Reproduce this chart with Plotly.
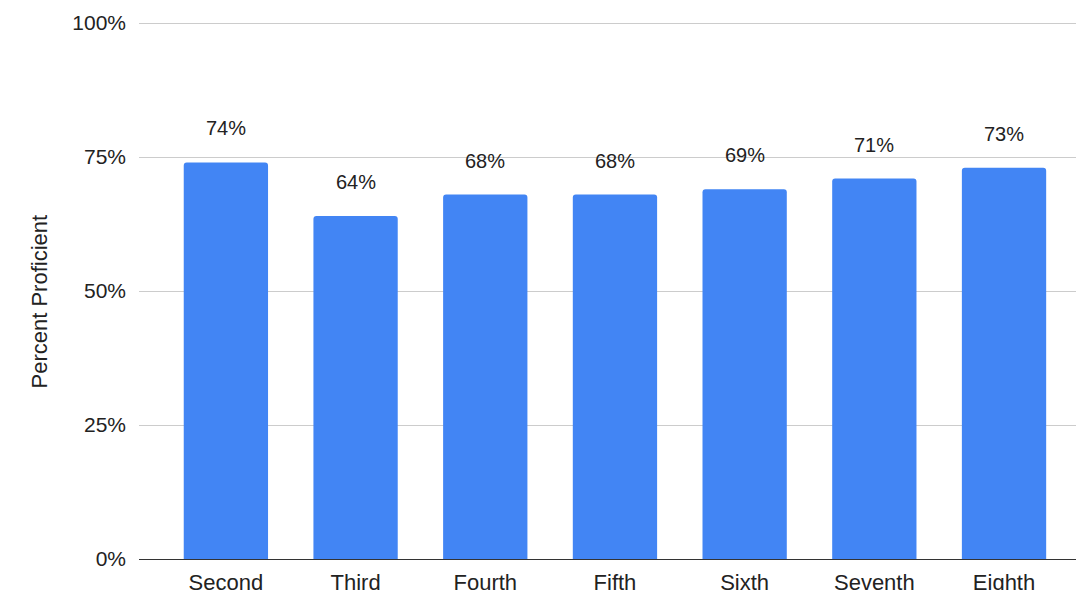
import plotly.graph_objects as go

grades = ["Second", "Third", "Fourth", "Fifth", "Sixth", "Seventh", "Eighth"]
proficient = [74, 64, 68, 68, 69, 71, 73]
value_labels = ["74%", "64%", "68%", "68%", "69%", "71%", "73%"]
y_ticks = [0, 25, 50, 75, 100]
y_tick_text = ["0%", "25%", "50%", "75%", "100%"]

W, H = 1076, 590
L, R, T, B = 139, 0, 21, 31
FONT = "Liberation Sans, Arial, Helvetica"

fig = go.Figure()
fig.add_trace(go.Bar(
    x=list(range(len(grades))), y=proficient,
    marker=dict(color="#4285F4", line=dict(width=0), cornerradius=3),
    width=0.65,
))

for i, (v, t) in enumerate(zip(proficient, value_labels)):
    fig.add_annotation(x=i, y=v, text=t, showarrow=False, yshift=34,
                       font=dict(family=FONT, size=20, color="#222222"))

fig.add_annotation(xref="paper", yref="paper", x=(24 - L) / (W - L - R), y=(H - B - 302) / (H - T - B),
                   text="Percent Proficient", textangle=-90, showarrow=False,
                   font=dict(family=FONT, size=22, color="#222222"))

fig.update_layout(
    width=W, height=H,
    margin=dict(l=L, r=R, t=T, b=B, autoexpand=False),
    plot_bgcolor="white", paper_bgcolor="white",
    showlegend=False,
    font=dict(family=FONT, size=21, color="#222222"),
)
fig.update_xaxes(
    range=[-0.67, 6.555],
    tickvals=list(range(len(grades))), ticktext=grades,
    showgrid=False, zeroline=False,
    showline=True, linecolor="#333333", linewidth=1,
    ticks="", ticklabelstandoff=4,
    tickfont=dict(family=FONT, size=22, color="#222222"),
)
fig.update_yaxes(
    range=[0, 100.4], tickvals=y_ticks, ticktext=y_tick_text,
    showgrid=True, gridcolor="#cccccc", gridwidth=1,
    zeroline=False, showline=False, ticks="", ticklabelstandoff=12,
    tickfont=dict(family=FONT, size=21, color="#222222"),
)

fig.write_html("out.html")
